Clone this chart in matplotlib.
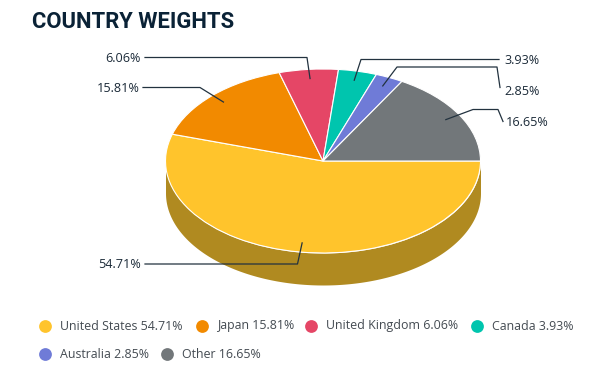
import numpy as np
import matplotlib
matplotlib.use("Agg")
import matplotlib.pyplot as plt

countries = ["United States", "Japan", "United Kingdom", "Canada", "Australia", "Other"]
weights = [54.71, 15.81, 6.06, 3.93, 2.85, 16.65]
colors = ["#FFC42C", "#F28A00", "#E54666", "#00C5AE", "#6F7BD7", "#72777A"]
side_color = "#B08A20"
text_color = "#1B2A38"

W, H = 591, 372
CX, CY, RX, RY, DEPTH = 323, 161, 157.5, 92, 32

# elbow points of each leader line and where its label sits, in pixels
leader_elbows = [
    [(297.5, 264), (145, 264)],
    [(200, 87.5), (143, 87.5)],
    [(307, 57.5), (145, 57.5)],
    [(361, 59.5), (499, 59.5)],
    [(397, 67), (497, 67), (500, 87.5)],
    [(473, 109.5), (498, 109.5), (503, 121.5)],
]
label_pos = [(141, 265, "right"), (140, 88.5, "right"), (141, 59, "right"),
             (504, 61, "left"), (504, 91.5, "left"), (506, 123, "left")]
legend_pos = [(45, 326), (202, 326), (311, 326), (477, 326), (45, 354), (167, 354)]

plt.rcParams["font.family"] = ["Open Sans", "DejaVu Sans"]
fig = plt.figure(figsize=(W / 100, H / 100), dpi=100, facecolor="white")

# pie axes: data range -1..1 maps onto the tilted ellipse
pie_ax = fig.add_axes([(CX - RX) / W, (H - CY - RY) / H, 2 * RX / W, 2 * RY / H])
theta = np.linspace(0, np.pi, 200)
d = DEPTH / RY
pie_ax.fill_between(np.cos(theta), -np.sin(theta), -np.sin(theta) - d,
                    color=side_color, lw=0, clip_on=False)
wedges, _ = pie_ax.pie(weights, colors=colors, startangle=0, counterclock=False,
                       wedgeprops={"edgecolor": "white", "linewidth": 0.8, "clip_on": False})
pie_ax.set_aspect("auto")
pie_ax.set_xlim(-1, 1)
pie_ax.set_ylim(-1, 1)
pie_ax.axis("off")

# overlay in pixel coordinates for leaders, labels, legend
ax = fig.add_axes([0, 0, 1, 1], zorder=3)
ax.set_xlim(0, W)
ax.set_ylim(H, 0)
ax.axis("off")

fractions = np.array(weights) / sum(weights)
mids = (np.cumsum(fractions) - fractions / 2) * 2 * np.pi
for i, w in enumerate(weights):
    x0 = CX + 0.9 * RX * np.cos(mids[i])
    y0 = CY + 0.9 * RY * np.sin(mids[i])
    pts = [(x0, y0)] + leader_elbows[i]
    ax.plot([p[0] for p in pts], [p[1] for p in pts], color="#22323F", lw=0.9)
    lx, ly, ha = label_pos[i]
    ax.text(lx, ly, f"{w:.2f}%", ha=ha, va="center", fontsize=9.1, color=text_color)

for i, name in enumerate(countries):
    mx, my = legend_pos[i]
    ax.plot([mx], [my], "o", ms=9.2, color=colors[i], mew=0)
    ax.text(mx + 14.7, my, f"{name} {weights[i]:.2f}%", ha="left", va="center",
            fontsize=8.95, color="#444B52")

ax.text(32, 21.5, "COUNTRY WEIGHTS", ha="left", va="center", fontsize=15.8,
        family=["Roboto", "DejaVu Sans"], fontweight="bold", color="#0A2236")

fig.savefig("out.png", dpi=100)
